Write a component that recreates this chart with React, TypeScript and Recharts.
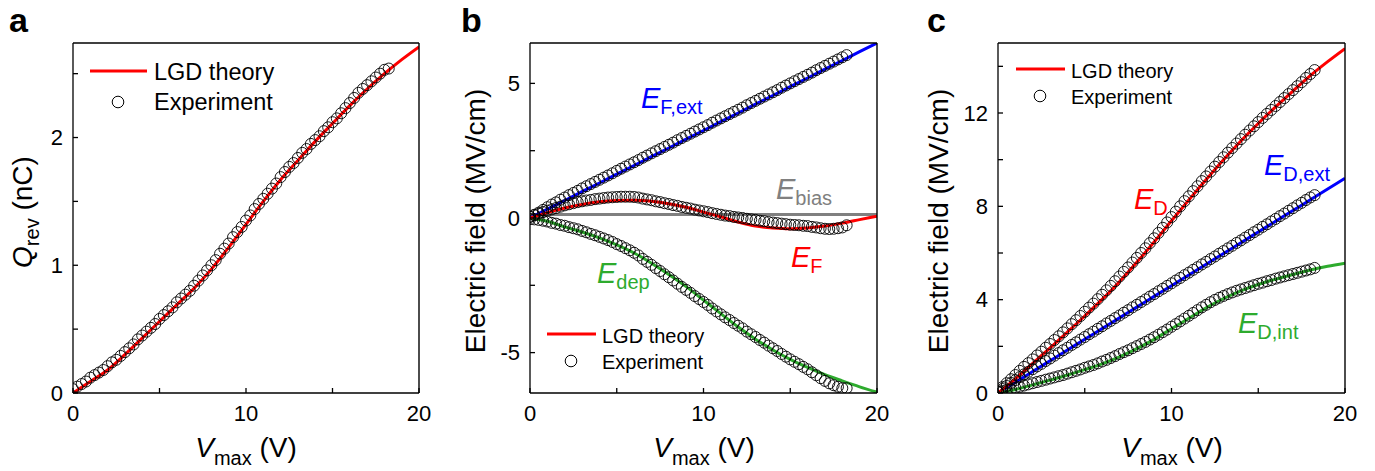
import React from "react";
import { ComposedChart, Line, Scatter, XAxis, YAxis, ReferenceLine } from "recharts";

const FONT = '"Liberation Sans", Arial, Helvetica, sans-serif';
const RED = "#ff0000";
const BLUE = "#0000ff";
const GREEN = "#2eab2e";
const GRAY = "#808080";

// theory curves, sampled at whole volts
const V_THEORY = [0, 1, 2, 3, 4, 5, 6, 7, 8, 9, 10, 11, 12, 13, 14, 15, 16, 17, 18, 19, 20];
const Q_THEORY = [0, 0.09, 0.18, 0.3, 0.43, 0.56, 0.69, 0.82, 0.97, 1.14, 1.32, 1.5, 1.67, 1.82, 1.97, 2.11, 2.25, 2.38, 2.5, 2.61, 2.71];
const EF_EXT_THEORY = [0, 0.33, 0.65, 0.98, 1.3, 1.63, 1.95, 2.28, 2.6, 2.93, 3.25, 3.58, 3.9, 4.23, 4.55, 4.88, 5.2, 5.53, 5.85, 6.18, 6.5];
const EF_THEORY = [0, 0.2, 0.37, 0.5, 0.6, 0.65, 0.66, 0.62, 0.53, 0.4, 0.22, 0.04, -0.15, -0.3, -0.37, -0.4, -0.37, -0.3, -0.19, -0.06, 0.07];
const EDEP_THEORY = [0, -0.12, -0.33, -0.52, -0.74, -1.0, -1.3, -1.68, -2.1, -2.55, -3.05, -3.55, -4.05, -4.5, -4.9, -5.25, -5.55, -5.82, -6.05, -6.27, -6.47];
const E_BIAS = 0.13;
const ED_THEORY = [0, 0.61, 1.27, 1.93, 2.61, 3.3, 4.01, 4.77, 5.6, 6.47, 7.38, 8.27, 9.15, 10.0, 10.8, 11.55, 12.26, 12.94, 13.6, 14.2, 14.76];
const ED_EXT_THEORY = [0, 0.46, 0.92, 1.38, 1.84, 2.3, 2.76, 3.22, 3.68, 4.14, 4.6, 5.06, 5.52, 5.98, 6.44, 6.9, 7.36, 7.82, 8.28, 8.74, 9.2];
const ED_INT_THEORY = [0, 0.15, 0.35, 0.55, 0.77, 1.0, 1.25, 1.55, 1.9, 2.3, 2.75, 3.2, 3.65, 4.05, 4.38, 4.65, 4.88, 5.08, 5.27, 5.43, 5.56];

// measured points
const V_EXP = [
  0, 0.25, 0.5, 0.75, 1, 1.25, 1.5, 1.75, 2, 2.25, 2.5, 2.75, 3, 3.25, 3.5, 3.75, 4, 4.25, 4.5, 4.75,
  5, 5.25, 5.5, 5.75, 6, 6.25, 6.5, 6.75, 7, 7.25, 7.5, 7.75, 8, 8.25, 8.5, 8.75, 9, 9.25, 9.5, 9.75,
  10, 10.25, 10.5, 10.75, 11, 11.25, 11.5, 11.75, 12, 12.25, 12.5, 12.75, 13, 13.25, 13.5, 13.75, 14, 14.25, 14.5, 14.75,
  15, 15.25, 15.5, 15.75, 16, 16.25, 16.5, 16.75, 17, 17.25, 17.5, 17.75, 18, 18.25,
];
const Q_EXP = [
  0.03, 0.05, 0.07, 0.09, 0.12, 0.14, 0.16, 0.18, 0.21, 0.24, 0.26, 0.29, 0.32, 0.35, 0.38, 0.42, 0.45, 0.48, 0.51, 0.54,
  0.58, 0.61, 0.64, 0.67, 0.71, 0.74, 0.77, 0.8, 0.84, 0.88, 0.92, 0.96, 1.0, 1.04, 1.09, 1.13, 1.17, 1.22, 1.26, 1.3,
  1.35, 1.39, 1.44, 1.48, 1.52, 1.56, 1.6, 1.64, 1.69, 1.73, 1.77, 1.8, 1.84, 1.88, 1.91, 1.95, 1.98, 2.01, 2.05, 2.08,
  2.12, 2.15, 2.19, 2.23, 2.27, 2.31, 2.35, 2.38, 2.41, 2.44, 2.47, 2.5, 2.53, 2.54,
];
const EF_EXT_EXP = [
  0.05, 0.12, 0.2, 0.3, 0.4, 0.5, 0.58, 0.68, 0.76, 0.85, 0.93, 1.01, 1.1, 1.18, 1.26, 1.34, 1.42, 1.5, 1.58, 1.66,
  1.75, 1.83, 1.91, 1.99, 2.07, 2.15, 2.24, 2.32, 2.4, 2.48, 2.56, 2.64, 2.72, 2.8, 2.89, 2.97, 3.05, 3.13, 3.21, 3.29,
  3.37, 3.45, 3.54, 3.62, 3.7, 3.78, 3.86, 3.94, 4.02, 4.1, 4.19, 4.27, 4.35, 4.43, 4.51, 4.59, 4.67, 4.75, 4.84, 4.92,
  5.0, 5.08, 5.16, 5.24, 5.32, 5.4, 5.49, 5.57, 5.65, 5.73, 5.81, 5.89, 5.97, 6.05,
];
const EF_EXP = [
  0.04, 0.1, 0.16, 0.22, 0.27, 0.32, 0.37, 0.42, 0.47, 0.51, 0.55, 0.59, 0.62, 0.65, 0.67, 0.7, 0.72, 0.74, 0.76, 0.77,
  0.78, 0.79, 0.79, 0.79, 0.78, 0.76, 0.72, 0.69, 0.66, 0.62, 0.59, 0.55, 0.52, 0.48, 0.45, 0.41, 0.38, 0.35, 0.31, 0.28,
  0.25, 0.22, 0.18, 0.15, 0.12, 0.09, 0.07, 0.04, 0.02, 0.0, -0.03, -0.05, -0.07, -0.1, -0.12, -0.15, -0.17, -0.19, -0.21, -0.23,
  -0.25, -0.26, -0.27, -0.29, -0.3, -0.33, -0.35, -0.38, -0.4, -0.41, -0.4, -0.38, -0.35, -0.27,
];
const EDEP_EXP = [
  -0.04, -0.05, -0.07, -0.1, -0.13, -0.18, -0.21, -0.26, -0.29, -0.34, -0.38, -0.42, -0.48, -0.53, -0.59, -0.64, -0.7, -0.76, -0.82, -0.89,
  -0.97, -1.04, -1.12, -1.2, -1.29, -1.39, -1.52, -1.63, -1.74, -1.86, -1.97, -2.09, -2.2, -2.32, -2.44, -2.56, -2.67, -2.78, -2.9, -3.01,
  -3.12, -3.23, -3.36, -3.47, -3.58, -3.69, -3.79, -3.9, -4.0, -4.1, -4.22, -4.32, -4.42, -4.53, -4.63, -4.74, -4.84, -4.94, -5.05, -5.15,
  -5.25, -5.34, -5.43, -5.53, -5.62, -5.73, -5.84, -5.95, -6.05, -6.14, -6.21, -6.27, -6.32, -6.32,
];
const ED_EXP = [
  0.08, 0.25, 0.42, 0.59, 0.77, 0.95, 1.12, 1.28, 1.44, 1.61, 1.77, 1.94, 2.1, 2.27, 2.43, 2.6, 2.77, 2.95, 3.12, 3.3,
  3.48, 3.66, 3.83, 4.02, 4.21, 4.4, 4.59, 4.79, 4.99, 5.19, 5.38, 5.59, 5.79, 6.0, 6.2, 6.42, 6.63, 6.86, 7.08, 7.31,
  7.54, 7.77, 8.0, 8.22, 8.43, 8.65, 8.86, 9.08, 9.28, 9.49, 9.7, 9.9, 10.1, 10.3, 10.5, 10.69, 10.88, 11.07, 11.25, 11.43,
  11.61, 11.79, 11.96, 12.13, 12.3, 12.47, 12.64, 12.81, 12.98, 13.15, 13.32, 13.5, 13.67, 13.84,
];
const ED_EXT_EXP = [
  0.05, 0.17, 0.3, 0.43, 0.55, 0.68, 0.8, 0.91, 1.02, 1.14, 1.25, 1.37, 1.48, 1.6, 1.71, 1.83, 1.94, 2.06, 2.17, 2.29,
  2.4, 2.52, 2.63, 2.75, 2.86, 2.98, 3.09, 3.21, 3.32, 3.44, 3.55, 3.67, 3.78, 3.9, 4.01, 4.13, 4.24, 4.36, 4.47, 4.59,
  4.7, 4.82, 4.93, 5.05, 5.16, 5.28, 5.39, 5.51, 5.62, 5.74, 5.85, 5.97, 6.08, 6.2, 6.31, 6.43, 6.54, 6.66, 6.77, 6.89,
  7.0, 7.12, 7.23, 7.35, 7.46, 7.58, 7.69, 7.81, 7.92, 8.04, 8.15, 8.27, 8.38, 8.48,
];
const ED_INT_EXP = [
  0.03, 0.08, 0.12, 0.16, 0.22, 0.27, 0.32, 0.37, 0.42, 0.47, 0.52, 0.57, 0.62, 0.67, 0.72, 0.77, 0.83, 0.89, 0.95, 1.01,
  1.08, 1.14, 1.2, 1.27, 1.35, 1.42, 1.5, 1.58, 1.67, 1.75, 1.83, 1.92, 2.01, 2.1, 2.19, 2.29, 2.39, 2.5, 2.61, 2.72,
  2.84, 2.95, 3.07, 3.19, 3.31, 3.43, 3.55, 3.67, 3.78, 3.89, 3.99, 4.08, 4.16, 4.24, 4.31, 4.38, 4.44, 4.5, 4.56, 4.62,
  4.68, 4.73, 4.79, 4.84, 4.9, 4.95, 5.0, 5.05, 5.1, 5.15, 5.2, 5.25, 5.3, 5.36,
];

const X_TICKS = [0, 5, 10, 15, 20];
const Q_TICKS = [0, 0.5, 1, 1.5, 2, 2.5];
const B_TICKS = [-5, -2.5, 0, 2.5, 5];
const C_TICKS = [0, 2, 4, 6, 8, 10, 12, 14];

// chart boxes
const CHART_W = 440;
const CHART_H = 471;
const Y_AXIS_W = 40;
const X_AXIS_H = 40;
const LAYOUT = {
  a: { left: 0, margin: { top: 43, right: 21, bottom: 38, left: 33 } },
  b: { left: 460, margin: { top: 43, right: 23, bottom: 38, left: 30 } },
  c: { left: 920, margin: { top: 43, right: 15, bottom: 38, left: 38 } },
};
type Layout = typeof LAYOUT.a;

function pts(xs: number[], ys: number[]) {
  return ys.map((y, i) => ({ v: xs[i], y }));
}

function plotBox(layout: Layout) {
  const m = layout.margin;
  return {
    x: layout.left + m.left + Y_AXIS_W,
    y: m.top,
    w: CHART_W - m.left - m.right - Y_AXIS_W,
    h: CHART_H - m.top - m.bottom - X_AXIS_H,
  };
}

const openCircle = (props: any) => (
  <circle cx={props.cx} cy={props.cy} r={5.5} fill="none" stroke="#000" strokeWidth={0.9} />
);

const tickStyle = { fill: "#000", fontSize: 22, fontFamily: FONT };

function Panel({
  layout,
  yDomain,
  yTicks,
  yFormat,
  children,
}: {
  layout: Layout;
  yDomain: [number, number];
  yTicks: number[];
  yFormat: (v: number) => string;
  children: React.ReactNode;
}) {
  return (
    <div style={{ position: "absolute", left: layout.left, top: 0 }}>
      <ComposedChart width={CHART_W} height={CHART_H} margin={layout.margin}>
        <XAxis
          dataKey="v"
          type="number"
          domain={[0, 20]}
          ticks={X_TICKS}
          interval={0}
          tickFormatter={(v) => (v % 10 === 0 ? String(v) : "")}
          tickSize={-5}
          tickMargin={17}
          height={X_AXIS_H}
          stroke="#000"
          strokeWidth={1.3}
          tick={tickStyle}
          allowDataOverflow
        />
        <YAxis
          dataKey="y"
          type="number"
          domain={yDomain}
          ticks={yTicks}
          interval={0}
          tickFormatter={yFormat}
          tickSize={-5}
          tickMargin={15}
          width={Y_AXIS_W}
          stroke="#000"
          strokeWidth={1.3}
          tick={tickStyle}
          allowDataOverflow
        />
        {children}
      </ComposedChart>
    </div>
  );
}

// top and right edges of the axes box, from the same layout numbers as the chart
function Frame({ layout }: { layout: Layout }) {
  const b = plotBox(layout);
  return (
    <g stroke="#000" strokeWidth={1.4} fill="none">
      <line x1={b.x} y1={b.y} x2={b.x + b.w} y2={b.y} />
      <line x1={b.x + b.w} y1={b.y} x2={b.x + b.w} y2={b.y + b.h} />
    </g>
  );
}

function theory(xs: number[], ys: number[], color: string, name: string) {
  return (
    <Line
      key={name}
      data={pts(xs, ys)}
      dataKey="y"
      type="monotone"
      stroke={color}
      strokeWidth={3}
      dot={false}
      isAnimationActive={false}
      name={name}
    />
  );
}

function experiment(ys: number[], name: string) {
  return <Scatter key={name} data={pts(V_EXP, ys)} dataKey="y" shape={openCircle} isAnimationActive={false} name={name} />;
}

function Sub({ main, sub, x, y, color, size = 29, subSize = 20, shift = 6 }: any) {
  return (
    <text x={x} y={y} fill={color} fontFamily={FONT} fontSize={size}>
      <tspan fontStyle="italic">{main}</tspan>
      <tspan fontSize={subSize} dy={shift}>{sub}</tspan>
    </text>
  );
}

function Legend({ x, y, size, gap }: { x: number; y: number; size: number; gap: number }) {
  const big = size > 21;
  return (
    <g fontFamily={FONT} fontSize={size} fill="#000">
      <line x1={x} x2={x + (big ? 57 : 49)} y1={y} y2={y} stroke={RED} strokeWidth={3} />
      <text x={x + (big ? 64 : 55)} y={y + 9}>LGD theory</text>
      <circle cx={x + (big ? 28 : 24)} cy={y + gap} r={5.8} fill="none" stroke="#000" strokeWidth={1} />
      <text x={x + (big ? 64 : 55)} y={y + gap + 8}>Experiment</text>
    </g>
  );
}

function XTitle({ cx }: { cx: number }) {
  return (
    <text x={cx} y={457} textAnchor="middle" fontFamily={FONT} fontSize={28} fill="#000">
      <tspan fontStyle="italic">V</tspan>
      <tspan fontSize={20} dy={8}>max</tspan>
      <tspan dy={-8}> (V)</tspan>
    </text>
  );
}

export default function App() {
  return (
    <div style={{ position: "absolute", left: 0, top: 0, width: 1375, height: 471, background: "#fff" }}>
      <Panel layout={LAYOUT.a} yDomain={[0, 2.74]} yTicks={Q_TICKS} yFormat={(v) => (Number.isInteger(v) ? String(v) : "")}>
        {experiment(Q_EXP, "Experiment")}
        {theory(V_THEORY, Q_THEORY, RED, "LGD theory")}
      </Panel>

      <Panel layout={LAYOUT.b} yDomain={[-6.5, 6.5]} yTicks={B_TICKS} yFormat={(v) => (v % 5 === 0 ? String(v) : "")}>
        <ReferenceLine key="bias" y={E_BIAS} stroke={GRAY} strokeWidth={3} />
        {experiment(EF_EXT_EXP, "E_F,ext exp")}
        {experiment(EF_EXP, "E_F exp")}
        {experiment(EDEP_EXP, "E_dep exp")}
        {theory(V_THEORY, EF_EXT_THEORY, BLUE, "E_F,ext")}
        {theory(V_THEORY, EDEP_THEORY, GREEN, "E_dep")}
        {theory(V_THEORY, EF_THEORY, RED, "E_F")}
      </Panel>

      <Panel layout={LAYOUT.c} yDomain={[0, 15]} yTicks={C_TICKS} yFormat={(v) => (v % 4 === 0 ? String(v) : "")}>
        {experiment(ED_EXP, "E_D exp")}
        {experiment(ED_EXT_EXP, "E_D,ext exp")}
        {experiment(ED_INT_EXP, "E_D,int exp")}
        {theory(V_THEORY, ED_EXT_THEORY, BLUE, "E_D,ext")}
        {theory(V_THEORY, ED_INT_THEORY, GREEN, "E_D,int")}
        {theory(V_THEORY, ED_THEORY, RED, "E_D")}
      </Panel>

      <svg width={1375} height={471} style={{ position: "absolute", left: 0, top: 0, pointerEvents: "none" }}>
        <Frame layout={LAYOUT.a} />
        <Frame layout={LAYOUT.b} />
        <Frame layout={LAYOUT.c} />

        <g fontFamily={FONT} fontWeight="bold" fontSize={34} fill="#000">
          <text x={9} y={32}>a</text>
          <text x={461} y={32}>b</text>
          <text x={927} y={32}>c</text>
        </g>

        <XTitle cx={246} />
        <XTitle cx={704} />
        <XTitle cx={1172} />

        <text transform="rotate(-90 32 212)" x={32} y={212} textAnchor="middle" fontFamily={FONT} fontSize={28} fill="#000">
          <tspan fontStyle="italic">Q</tspan>
          <tspan fontSize={20} dy={7}>rev</tspan>
          <tspan dy={-7}> (nC)</tspan>
        </text>
        <text transform="rotate(-90 485 221)" x={485} y={221} textAnchor="middle" fontFamily={FONT} fontSize={28} fill="#000">
          Electric field (MV/cm)
        </text>
        <text transform="rotate(-90 948 221)" x={948} y={221} textAnchor="middle" fontFamily={FONT} fontSize={28} fill="#000">
          Electric field (MV/cm)
        </text>

        <Legend x={90} y={71} size={23.5} gap={31} />
        <Legend x={547} y={334} size={20} gap={27} />
        <Legend x={1016} y={69} size={20} gap={27} />

        <Sub main="E" sub="F,ext" x={641} y={108} color={BLUE} />
        <Sub main="E" sub="bias" x={776} y={199} color={GRAY} />
        <Sub main="E" sub="F" x={791} y={267} color={RED} />
        <Sub main="E" sub="dep" x={597} y={283} color={GREEN} />
        <Sub main="E" sub="D" x={1134} y={209} color={RED} />
        <Sub main="E" sub="D,ext" x={1264} y={175} color={BLUE} />
        <Sub main="E" sub="D,int" x={1238} y={333} color={GREEN} />
      </svg>
    </div>
  );
}
